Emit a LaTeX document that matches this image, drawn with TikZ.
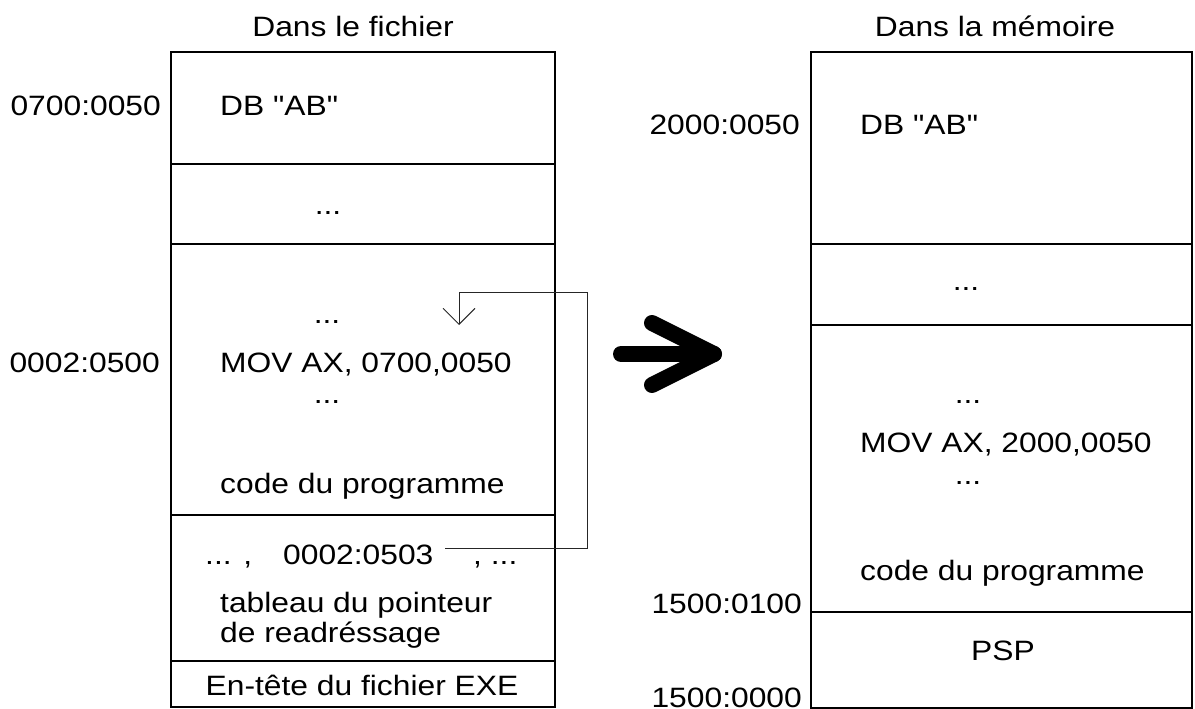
\documentclass[tikz,border=0pt]{standalone}
\usepackage{fontspec}
\setmainfont{Liberation Sans}[FakeStretch=1.135,Ligatures=TeXOff]
\usetikzlibrary{arrows.meta}
\begin{document}
\begin{tikzpicture}[x=1pt,y=-1pt,
  every node/.style={inner sep=0pt, font=\fontsize{28}{34}\selectfont},
  seg/.style={draw, line width=1.5pt, inner sep=0pt},
  lbl/.style={anchor=base west},
  addr/.style={anchor=base east},
  ctr/.style={anchor=base},
  conn/.style={draw=black!85, line width=0.9pt},
  bigarrow/.style={line width=16pt, line cap=round, line join=round}]
\useasboundingbox (0,0) rectangle (1195,709);
% titles
\node[ctr] (t1) at (353,37) {Dans le fichier};
\node[ctr] (t2) at (995,37) {Dans la mémoire};
% left column
\node[seg, minimum width=384pt, minimum height=112pt] (b1) at (363,108) {};
\node[seg, minimum width=384pt, minimum height=80pt]  (b2) at (363,204) {};
\node[seg, minimum width=384pt, minimum height=271pt] (b3) at (363,379.5) {};
\node[seg, minimum width=384pt, minimum height=146pt] (b4) at (363,588) {};
\node[seg, minimum width=384pt, minimum height=46pt]  (b5) at (363,684) {};
% right column
\node[seg, minimum width=381pt, minimum height=192pt] (r1) at (1001.5,148) {};
\node[seg, minimum width=381pt, minimum height=81pt]  (r2) at (1001.5,284.5) {};
\node[seg, minimum width=381pt, minimum height=287pt] (r3) at (1001.5,468.5) {};
\node[seg, minimum width=381pt, minimum height=96pt]  (r4) at (1001.5,660) {};
% left addresses
\node[addr] (a1) at (161,115) {0700:0050};
\node[addr] (a2) at (160,372) {0002:0500};
% left texts
\node[lbl] (l1) at (220,115) {DB "AB"};
\node[ctr] (l2) at (328,214) {...};
\node[ctr] (l3) at (327,323) {...};
\node[lbl] (l4) at (220,372) {MOV AX, 0700,0050};
\node[ctr] (l5) at (327,403) {...};
\node[lbl] (l6) at (220,493) {code du programme};
\node[lbl] (l7) at (205,564) {... ,};
\node[lbl] (ptr) at (283,564) {0002:0503};
\node[lbl] (l8) at (473,564) {, ...};
\node[lbl] (l9) at (220,612) {tableau du pointeur};
\node[lbl] (l10) at (220,642) {de readréssage};
\node[ctr] (l11) at (362,695) {En-tête du fichier EXE};
% right addresses
\node[addr] (a3) at (800,135) {2000:0050};
\node[addr] (a4) at (802,613) {1500:0100};
\node[addr] (a5) at (802,707) {1500:0000};
% right texts
\node[lbl] (m1) at (860,135) {DB "AB"};
\node[ctr] (m2) at (966,290) {...};
\node[ctr] (m3) at (968,403) {...};
\node[lbl] (m4) at (860,452) {MOV AX, 2000,0050};
\node[ctr] (m5) at (968,484) {...};
\node[lbl] (m6) at (860,580) {code du programme};
\node[ctr] (m7) at (1003,660) {PSP};
% relocation pointer connector
\coordinate (c0) at (445,548);
\coordinate (c1) at (587,292);
\coordinate (tip) at (459,325);
\draw[conn, -{Straight Barb[length=16pt,width=32pt,line width=0.9pt]}] (c0) -| (c1) -| (tip);
% big arrow
\coordinate (s0) at (621,354);
\coordinate (s1) at (714,354);
\coordinate (u0) at (652,323);
\coordinate (d0) at (652,385);
\draw[bigarrow] (s0) -- (s1);
\draw[bigarrow] (u0) -- (s1) -- (d0);
\end{tikzpicture}
\end{document}
